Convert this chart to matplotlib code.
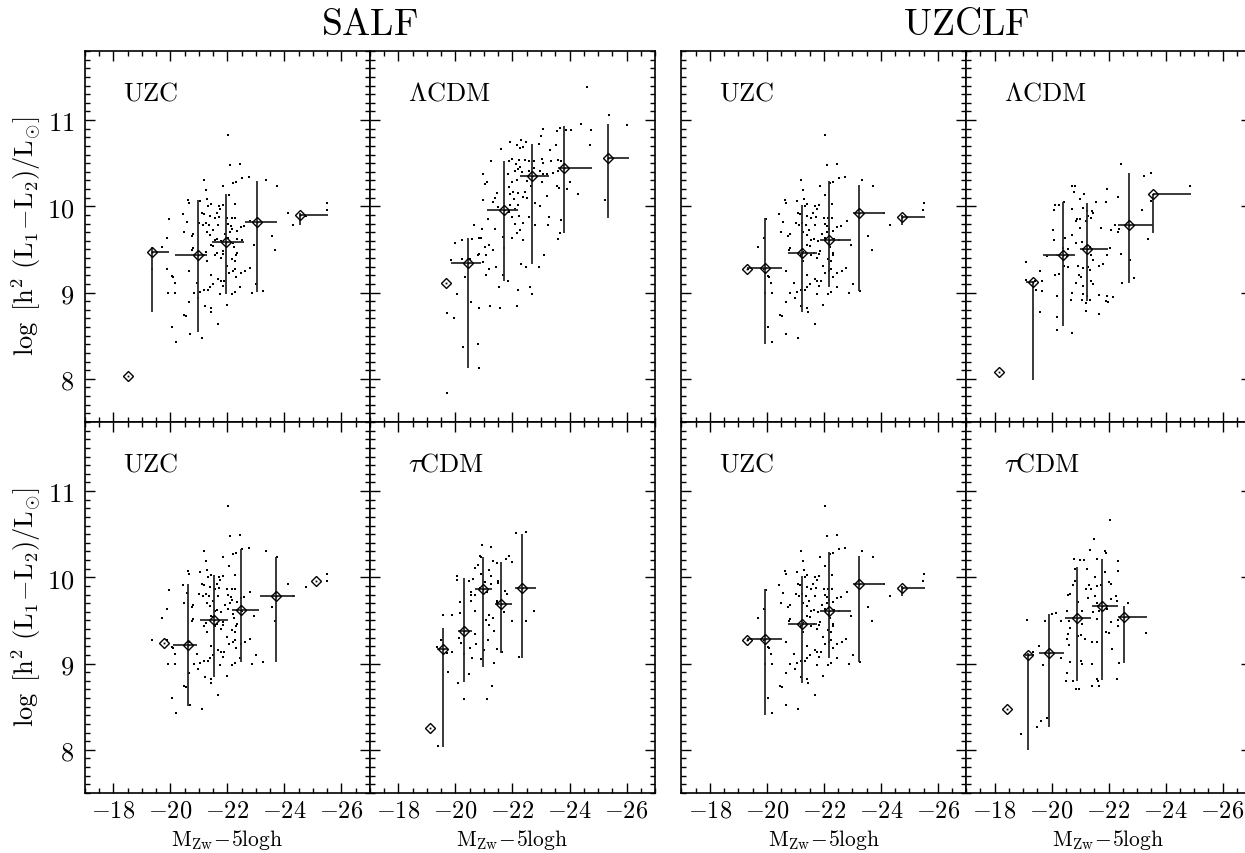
import numpy as np
import matplotlib
matplotlib.use('Agg')
import matplotlib.pyplot as plt
from matplotlib.ticker import MultipleLocator, FuncFormatter, NullFormatter

plt.rcParams['mathtext.fontset'] = 'cm'
plt.rcParams['font.family'] = ['DejaVu Serif']

# ---------------- data ----------------
# observed UZC groups (same in all four UZC panels): (M, log L)
uzc_points = [
    (-22.03, 10.83), (-22.09, 10.48), (-22.45, 10.49), (-21.18, 10.30), (-22.20, 10.27), (-22.31, 10.28), (-22.52, 10.33), (-22.74, 10.34), (-23.35, 10.30), (-23.73, 10.24),
    (-21.25, 10.19), (-21.85, 10.24), (-22.05, 10.13), (-20.63, 10.07), (-20.65, 10.04), (-21.05, 10.06), (-21.29, 10.09), (-21.42, 10.03), (-21.32, 10.00), (-21.69, 10.00),
    (-21.83, 10.01), (-21.74, 9.97), (-22.28, 10.03), (-25.50, 10.04), (-20.43, 9.91), (-21.09, 9.92), (-21.16, 9.91), (-21.40, 9.89), (-21.56, 9.87), (-21.71, 9.88),
    (-21.99, 9.86), (-22.15, 9.86), (-22.28, 9.87), (-21.62, 9.92), (-24.11, 9.92), (-24.75, 9.89), (-19.95, 9.85), (-20.57, 9.82), (-21.23, 9.81), (-21.36, 9.78),
    (-21.13, 9.78), (-21.01, 9.81), (-21.68, 9.78), (-22.03, 9.79), (-22.12, 9.77), (-22.47, 9.76), (-22.58, 9.77), (-22.79, 9.83), (-24.31, 9.78), (-20.49, 9.70),
    (-20.80, 9.68), (-20.74, 9.66), (-21.27, 9.70), (-21.40, 9.67), (-21.48, 9.72), (-22.17, 9.74), (-22.09, 9.70), (-21.92, 9.68), (-22.32, 9.71), (-23.56, 9.66),
    (-19.89, 9.63), (-21.64, 9.62), (-21.56, 9.61), (-21.78, 9.60), (-22.02, 9.63), (-22.35, 9.62), (-22.52, 9.61), (-22.18, 9.57), (-21.41, 9.55), (-19.69, 9.53),
    (-20.80, 9.52), (-20.77, 9.49), (-21.50, 9.54), (-21.64, 9.46), (-21.85, 9.48), (-21.83, 9.45), (-22.22, 9.53), (-22.32, 9.46), (-22.30, 9.44), (-22.93, 9.55),
    (-23.68, 9.49), (-21.25, 9.47), (-21.19, 9.43), (-21.56, 9.43), (-21.77, 9.40), (-22.15, 9.39), (-22.26, 9.37), (-21.27, 9.37), (-19.89, 9.27), (-20.65, 9.25),
    (-21.97, 9.31), (-22.05, 9.23), (-22.18, 9.25), (-22.26, 9.27), (-22.47, 9.23), (-22.63, 9.25), (-22.78, 9.28), (-20.08, 9.18), (-21.41, 9.20), (-21.68, 9.16),
    (-21.77, 9.14), (-21.89, 9.13), (-22.30, 9.18), (-20.15, 9.11), (-20.94, 9.11), (-21.50, 9.10), (-21.39, 9.06), (-21.84, 9.08), (-22.44, 9.07), (-23.01, 9.10),
    (-19.92, 9.00), (-20.17, 9.00), (-20.82, 9.00), (-21.04, 9.01), (-21.19, 9.03), (-21.33, 9.03), (-21.75, 8.98), (-22.15, 8.98), (-22.26, 9.01), (-22.86, 9.00),
    (-23.25, 9.02), (-20.65, 8.89), (-20.98, 8.94), (-21.42, 8.82), (-21.43, 8.78), (-21.97, 8.86), (-21.21, 8.85), (-20.47, 8.74), (-20.53, 8.73), (-20.04, 8.60),
    (-20.18, 8.43), (-20.68, 8.52), (-21.09, 8.47), (-21.68, 8.64), (-19.34, 9.27), (-20.05, 9.19), (-25.48, 9.96),
]

lcdm_salf_points = [
    (-24.60, 11.38), (-25.37, 11.06), (-26.01, 10.94), (-24.41, 10.95), (-23.06, 10.90), (-23.67, 10.91), (-23.87, 10.89), (-24.07, 10.88), (-23.55, 10.87), (-23.00, 10.82),
    (-24.75, 10.88), (-21.92, 10.75), (-22.29, 10.77), (-22.47, 10.75), (-22.17, 10.71), (-22.27, 10.67), (-21.59, 10.66), (-22.38, 10.69), (-22.93, 10.72), (-23.53, 10.71),
    (-24.71, 10.71), (-23.33, 10.65), (-21.25, 10.53), (-21.88, 10.53), (-21.98, 10.55), (-22.13, 10.49), (-22.24, 10.54), (-22.44, 10.54), (-22.58, 10.52), (-22.74, 10.52),
    (-23.03, 10.55), (-23.08, 10.50), (-23.34, 10.52), (-23.58, 10.54), (-23.69, 10.52), (-22.09, 10.41), (-22.20, 10.43), (-22.26, 10.45), (-22.32, 10.40), (-22.57, 10.41),
    (-22.76, 10.44), (-22.96, 10.41), (-23.06, 10.38), (-23.20, 10.38), (-23.41, 10.39), (-23.61, 10.41), (-20.98, 10.37), (-21.09, 10.28), (-21.04, 10.26), (-21.83, 10.38),
    (-21.88, 10.22), (-21.97, 10.28), (-22.17, 10.30), (-22.50, 10.29), (-22.64, 10.23), (-23.02, 10.28), (-23.57, 10.24), (-23.64, 10.21), (-24.02, 10.28), (-23.90, 10.20),
    (-24.31, 10.14), (-21.46, 10.15), (-21.39, 10.10), (-21.91, 10.14), (-22.03, 10.16), (-22.20, 10.15), (-22.38, 10.11), (-22.50, 10.10), (-22.44, 10.16), (-23.20, 10.12),
    (-20.95, 10.07), (-21.33, 10.05), (-21.50, 9.99), (-22.05, 10.08), (-22.21, 10.02), (-21.91, 10.02), (-21.15, 9.85), (-20.66, 9.78), (-22.09, 9.97), (-21.89, 9.93),
    (-21.97, 9.88), (-22.24, 9.89), (-22.36, 9.81), (-22.58, 9.88), (-22.79, 10.04), (-22.96, 10.00), (-22.79, 9.78), (-23.27, 9.88), (-23.26, 9.78), (-23.69, 9.84),
    (-22.09, 9.79), (-22.17, 9.69), (-22.26, 9.72), (-22.36, 9.61), (-22.00, 9.63), (-21.65, 9.65), (-21.71, 9.52), (-21.19, 9.55), (-21.30, 9.49), (-21.04, 9.53),
    (-20.89, 9.63), (-20.81, 9.63), (-20.59, 9.62), (-20.24, 9.61), (-19.98, 9.57), (-23.67, 9.69), (-23.61, 9.62), (-21.40, 9.74), (-20.92, 9.74), (-20.84, 9.45),
    (-21.07, 9.43), (-20.98, 9.35), (-20.80, 9.43), (-20.51, 9.39), (-20.23, 9.39), (-19.85, 9.38), (-20.33, 9.18), (-21.07, 9.20), (-21.41, 9.30), (-21.19, 9.27),
    (-21.65, 9.20), (-21.83, 9.14), (-22.30, 9.33), (-22.47, 9.30), (-22.92, 9.30), (-23.09, 9.43), (-20.04, 8.98), (-20.53, 8.89), (-20.82, 8.82), (-21.22, 8.85),
    (-21.56, 8.82), (-22.15, 8.85), (-21.51, 9.07), (-22.20, 9.03), (-22.61, 9.07), (-22.68, 8.98), (-19.71, 8.76), (-19.96, 8.70), (-20.25, 8.37), (-20.78, 8.40),
    (-20.84, 8.13), (-19.71, 7.84), (-25.25, 10.07),
]

tcdm_salf_points = [
    (-22.12, 10.51), (-22.47, 10.52), (-20.92, 10.38), (-21.25, 10.35), (-20.86, 10.25), (-20.91, 10.24), (-21.30, 10.19), (-20.79, 10.14), (-20.68, 10.11), (-21.19, 10.08),
    (-21.26, 10.02), (-21.86, 10.25), (-21.97, 10.18), (-21.76, 10.21), (-21.46, 10.17), (-20.88, 10.04), (-20.04, 10.02), (-20.06, 9.97), (-20.61, 9.98), (-20.47, 9.96),
    (-21.48, 9.96), (-21.50, 9.93), (-21.05, 9.95), (-21.23, 9.92), (-20.54, 9.83), (-20.54, 9.79), (-20.70, 9.79), (-20.85, 9.88), (-21.09, 9.83), (-21.73, 9.84),
    (-21.81, 9.81), (-20.16, 9.71), (-20.53, 9.72), (-20.16, 9.59), (-20.68, 9.61), (-21.45, 9.73), (-21.47, 9.70), (-21.70, 9.60), (-21.06, 9.50), (-21.19, 9.56),
    (-21.32, 9.53), (-21.99, 9.49), (-22.47, 9.49), (-22.74, 9.61), (-19.57, 9.56), (-19.87, 9.56), (-21.16, 9.45), (-21.34, 9.38), (-20.68, 9.34), (-20.12, 9.30),
    (-20.19, 9.24), (-20.71, 9.23), (-20.50, 9.18), (-19.35, 9.19), (-19.49, 9.27), (-19.71, 9.12), (-19.89, 9.13), (-21.01, 9.16), (-21.46, 9.17), (-21.62, 9.13),
    (-22.22, 9.08), (-20.88, 9.05), (-20.57, 9.06), (-20.31, 9.11), (-21.34, 9.01), (-19.73, 8.90), (-20.10, 8.78), (-20.47, 8.88), (-21.27, 8.74), (-20.31, 8.59),
    (-21.09, 8.59), (-19.37, 8.04), (-21.14, 9.27),
]

lcdm_uzclf_points = [
    (-22.43, 10.49), (-23.48, 10.39), (-23.25, 10.35), (-24.86, 10.23), (-20.82, 10.24), (-20.71, 10.23), (-20.79, 10.17), (-21.96, 10.20), (-21.15, 10.14), (-21.00, 10.09),
    (-22.32, 10.11), (-23.49, 10.06), (-20.45, 10.05), (-20.14, 10.02), (-20.26, 10.01), (-20.09, 9.96), (-20.71, 9.97), (-21.12, 9.98), (-21.26, 9.95), (-21.41, 9.95),
    (-21.44, 9.92), (-21.56, 10.05), (-21.91, 10.05), (-21.29, 9.89), (-20.91, 9.85), (-20.86, 9.83), (-21.00, 9.85), (-21.21, 9.83), (-21.37, 9.86), (-21.00, 9.75),
    (-21.73, 9.75), (-22.22, 9.78), (-22.09, 9.73), (-22.37, 9.74), (-22.32, 9.70), (-23.18, 9.96), (-23.37, 9.62), (-20.06, 9.73), (-20.09, 9.61), (-20.46, 9.63),
    (-20.71, 9.67), (-20.86, 9.58), (-21.08, 9.59), (-20.42, 9.52), (-20.59, 9.51), (-21.35, 9.53), (-22.05, 9.52), (-19.09, 9.36), (-19.83, 9.42), (-20.18, 9.43),
    (-20.53, 9.42), (-21.37, 9.43), (-21.44, 9.38), (-21.94, 9.44), (-22.43, 9.45), (-20.45, 9.31), (-20.57, 9.30), (-20.92, 9.31), (-21.09, 9.29), (-21.27, 9.30),
    (-21.82, 9.33), (-21.67, 9.31), (-21.35, 9.26), (-19.60, 9.25), (-20.12, 9.20), (-20.28, 9.21), (-20.97, 9.20), (-21.02, 9.18), (-21.37, 9.14), (-20.86, 9.11),
    (-21.12, 9.08), (-21.47, 9.10), (-19.42, 9.14), (-19.68, 9.13), (-19.10, 9.15), (-19.65, 9.02), (-19.44, 9.03), (-20.18, 8.96), (-20.71, 9.00), (-21.12, 8.98),
    (-21.23, 8.96), (-21.68, 8.97), (-21.94, 8.96), (-22.17, 8.95), (-22.46, 9.11), (-22.91, 9.17), (-20.67, 8.91), (-21.08, 8.91), (-21.21, 8.88), (-21.35, 8.91),
    (-21.91, 8.90), (-21.99, 8.89), (-19.60, 8.77), (-20.21, 8.72), (-21.21, 8.79), (-21.66, 8.75), (-22.75, 9.38), (-20.21, 8.57), (-20.71, 8.53),
]

tcdm_uzclf_points = [
    (-22.05, 10.66), (-21.50, 10.44), (-21.35, 10.32), (-21.88, 10.31), (-21.90, 10.28), (-20.80, 10.21), (-21.00, 10.20), (-21.15, 10.20), (-21.58, 10.21), (-22.32, 10.19),
    (-20.82, 10.10), (-21.23, 10.10), (-22.32, 10.07), (-21.88, 10.06), (-21.53, 10.00), (-20.84, 9.96), (-20.74, 9.91), (-21.32, 9.91), (-21.39, 9.86), (-21.21, 9.86),
    (-21.58, 9.90), (-21.73, 9.91), (-22.01, 9.94), (-22.09, 9.92), (-20.65, 9.81), (-20.58, 9.79), (-21.27, 9.76), (-21.54, 9.78), (-22.08, 9.75), (-22.26, 9.78),
    (-22.31, 9.73), (-22.67, 9.70), (-20.92, 9.71), (-21.60, 9.70), (-21.65, 9.61), (-21.94, 9.63), (-20.56, 9.61), (-21.08, 9.61), (-21.46, 9.60), (-20.15, 9.59),
    (-20.02, 9.58), (-19.78, 9.49), (-20.33, 9.49), (-20.63, 9.49), (-21.08, 9.46), (-21.61, 9.52), (-22.08, 9.48), (-22.32, 9.51), (-20.65, 9.41), (-20.58, 9.34),
    (-20.53, 9.29), (-20.94, 9.32), (-21.02, 9.33), (-21.18, 9.29), (-21.41, 9.25), (-21.61, 9.25), (-21.92, 9.37), (-22.02, 9.36), (-22.34, 9.44), (-19.15, 9.51),
    (-19.57, 9.20), (-19.34, 9.14), (-20.63, 9.21), (-20.33, 9.06), (-20.66, 9.02), (-21.03, 9.03), (-21.08, 9.00), (-21.43, 8.99), (-22.12, 9.17), (-22.37, 9.01),
    (-23.32, 9.36), (-19.71, 8.98), (-20.56, 8.89), (-20.77, 8.80), (-20.51, 8.80), (-21.58, 8.82), (-21.64, 8.80), (-20.86, 8.70), (-20.98, 8.70), (-21.41, 8.74),
    (-21.68, 8.74), (-22.29, 8.82), (-19.62, 8.34), (-19.83, 8.37), (-19.48, 8.27), (-18.92, 8.18),
]

# binned medians: magnitude, log L, vertical range, horizontal range
salf_uzc_top_mag = [-19.36, -20.95, -21.95, -23.02, -24.54]
salf_uzc_top_logL = [9.47, 9.43, 9.59, 9.82, 9.90]
salf_uzc_top_ylo = [8.78, 8.54, 8.98, 9.01, 9.78]
salf_uzc_top_yhi = [9.53, 10.07, 10.14, 10.29, 9.92]
salf_uzc_top_xlo = [-19.36, -20.16, -21.44, -22.61, -24.54]
salf_uzc_top_xhi = [-19.95, -21.27, -22.58, -23.73, -25.54]
salf_uzc_top_single = [(-18.50, 8.03)]

salf_uzc_bot_mag = [-20.63, -21.54, -22.46, -23.70]
salf_uzc_bot_logL = [9.22, 9.51, 9.62, 9.78]
salf_uzc_bot_ylo = [8.51, 8.85, 9.02, 9.02]
salf_uzc_bot_yhi = [9.92, 10.03, 10.33, 10.24]
salf_uzc_bot_xlo = [-20.10, -21.03, -22.15, -23.14]
salf_uzc_bot_xhi = [-20.92, -22.03, -23.11, -24.37]
salf_uzc_bot_single = [(-19.78, 9.24), (-25.12, 9.96)]

salf_lcdm_mag = [-20.43, -21.71, -22.70, -23.80, -25.36]
salf_lcdm_logL = [9.34, 9.96, 10.35, 10.44, 10.56]
salf_lcdm_ylo = [8.13, 9.14, 9.33, 9.69, 9.87]
salf_lcdm_yhi = [9.63, 10.52, 10.72, 10.93, 10.95]
salf_lcdm_xlo = [-19.84, -21.09, -22.26, -23.58, -25.36]
salf_lcdm_xhi = [-20.89, -22.20, -23.29, -24.78, -26.09]
salf_lcdm_single = [(-19.67, 9.11)]

salf_tcdm_mag = [-19.57, -20.29, -20.96, -21.59, -22.32]
salf_tcdm_logL = [9.17, 9.38, 9.87, 9.69, 9.88]
salf_tcdm_ylo = [8.03, 8.79, 8.96, 9.12, 9.07]
salf_tcdm_yhi = [9.41, 9.99, 10.23, 10.18, 10.50]
salf_tcdm_xlo = [-19.36, -20.10, -20.68, -21.39, -22.09]
salf_tcdm_xhi = [-19.75, -20.59, -21.27, -21.99, -22.81]
salf_tcdm_single = [(-19.09, 8.25)]

uzclf_uzc_mag = [-19.93, -21.22, -22.18, -23.23, -24.74]
uzclf_uzc_logL = [9.28, 9.46, 9.61, 9.92, 9.88]
uzclf_uzc_ylo = [8.40, 8.77, 9.06, 9.02, 9.78]
uzclf_uzc_yhi = [9.86, 10.01, 10.29, 10.25, 9.90]
uzclf_uzc_xlo = [-19.30, -20.72, -21.85, -23.02, -24.74]
uzclf_uzc_xhi = [-20.51, -21.74, -22.94, -24.13, -25.54]
uzclf_uzc_single = [(-19.30, 9.27)]

uzclf_lcdm_mag = [-19.34, -20.39, -21.25, -22.72, -23.57]
uzclf_lcdm_logL = [9.12, 9.43, 9.51, 9.78, 10.14]
uzclf_lcdm_ylo = [7.99, 8.61, 8.90, 9.11, 9.69]
uzclf_lcdm_yhi = [9.14, 10.05, 10.04, 10.39, 10.14]
uzclf_lcdm_xlo = [-19.10, -19.69, -21.00, -22.32, -23.57]
uzclf_lcdm_xhi = [-19.40, -20.82, -21.99, -23.55, -24.88]
uzclf_lcdm_single = [(-18.17, 8.08)]

uzclf_tcdm_mag = [-19.16, -19.90, -20.89, -21.76, -22.54]
uzclf_tcdm_logL = [9.10, 9.12, 9.53, 9.67, 9.54]
uzclf_tcdm_ylo = [8.00, 8.27, 8.80, 8.81, 9.01]
uzclf_tcdm_yhi = [9.12, 9.57, 10.12, 10.21, 9.67]
uzclf_tcdm_xlo = [-19.07, -19.57, -20.47, -21.41, -22.35]
uzclf_tcdm_xhi = [-19.40, -20.44, -21.37, -22.32, -23.36]
uzclf_tcdm_single = [(-18.45, 8.47)]

group_titles = ['SALF', 'UZCLF']

# ---------------- figure ----------------
W, H = 1245, 854
fig = plt.figure(figsize=(W / 100, H / 100), dpi=100)

def add_ax(left, top, w=285, h=371):
    return fig.add_axes([left / W, 1 - (top + h) / H, w / W, h / H])

bar_color = '#2a2a2a'

def bins(prefix):
    g = globals()
    return (g[prefix + '_mag'], g[prefix + '_logL'], g[prefix + '_ylo'],
            g[prefix + '_yhi'], g[prefix + '_xlo'], g[prefix + '_xhi'],
            g[prefix + '_single'])

panels = [
    # col, row, dots, bins prefix, label
    (0, 0, uzc_points, 'salf_uzc_top', r'$\mathrm{UZC}$'),
    (1, 0, lcdm_salf_points, 'salf_lcdm', r'$\Lambda\mathrm{CDM}$'),
    (0, 1, uzc_points, 'salf_uzc_bot', r'$\mathrm{UZC}$'),
    (1, 1, tcdm_salf_points, 'salf_tcdm', r'$\tau\mathrm{CDM}$'),
    (2, 0, uzc_points, 'uzclf_uzc', r'$\mathrm{UZC}$'),
    (3, 0, lcdm_uzclf_points, 'uzclf_lcdm', r'$\Lambda\mathrm{CDM}$'),
    (2, 1, uzc_points, 'uzclf_uzc', r'$\mathrm{UZC}$'),
    (3, 1, tcdm_uzclf_points, 'uzclf_tcdm', r'$\tau\mathrm{CDM}$'),
]
col_left = [85, 370, 681.5, 966]
row_top = [52, 423]

fmt = FuncFormatter(lambda v, p: r'$%d$' % int(round(v)))

for col, row, dots, prefix, label in panels:
    ax = add_ax(col_left[col], row_top[row])
    d = np.array(dots)
    ax.plot(d[:, 0], d[:, 1], 's', ms=1.8, mfc='black', mec='black', mew=0,
            ls='none', zorder=2)
    bx, by, ylo, yhi, xlo, xhi, single = bins(prefix)
    ax.vlines(bx, ylo, yhi, color=bar_color, lw=1.3, zorder=3)
    ax.hlines(by, xlo, xhi, color=bar_color, lw=1.3, zorder=3)
    s = np.array(single)
    allx = list(bx) + list(s[:, 0])
    ally = list(by) + list(s[:, 1])
    ax.plot(allx, ally, 'D', ms=5.0, mfc='none', mec='black', mew=1.0,
            ls='none', zorder=4)
    ax.plot(allx, ally, 's', ms=1.3, mfc='black', mec='black', mew=0,
            ls='none', zorder=5)

    ax.set_xlim(-17, -27)
    ax.set_ylim(7.5, 11.8)
    ax.xaxis.set_major_locator(MultipleLocator(2))
    ax.xaxis.set_minor_locator(MultipleLocator(0.5))
    ax.yaxis.set_major_locator(MultipleLocator(1))
    ax.yaxis.set_minor_locator(MultipleLocator(0.1))
    ax.tick_params(which='both', direction='in', top=True, right=True,
                   width=1.0)
    ax.tick_params(which='major', length=7.5)
    ax.tick_params(which='minor', length=3.8)
    ax.tick_params(axis='x', pad=4, labelsize=17.5)
    ax.tick_params(axis='y', pad=8, labelsize=19)
    for sp in ax.spines.values():
        sp.set_linewidth(1.2)
    ax.xaxis.set_major_formatter(fmt if row == 1 else NullFormatter())
    ax.yaxis.set_major_formatter(fmt if col == 0 else NullFormatter())

    ax.text(0.133, 0.87, label, transform=ax.transAxes, fontsize=19,
            va='baseline', ha='left')
    if row == 1:
        ax.text(0.5, (794 - 840) / 371, r'$\mathrm{M_{Zw}}\!-\!5\mathrm{logh}$',
                transform=ax.transAxes, ha='center', va='center', fontsize=15.5)

# group titles
fig.text(370 / W, 1 - 35 / H, r'$\mathrm{%s}$' % group_titles[0], ha='center',
         va='baseline', fontsize=27)
fig.text(966 / W, 1 - 35 / H, r'$\mathrm{%s}$' % group_titles[1], ha='center',
         va='baseline', fontsize=27)

ylab = r'$\log\ [\mathrm{h}^2\ (\mathrm{L}_1\!-\!\mathrm{L}_2)/\mathrm{L}_{\odot}]$'
fig.text(26 / W, 1 - 236 / H, ylab, rotation=90, ha='center', va='center',
         fontsize=19)
fig.text(26 / W, 1 - 607 / H, ylab, rotation=90, ha='center', va='center',
         fontsize=19)

fig.savefig('out.png', dpi=100)
